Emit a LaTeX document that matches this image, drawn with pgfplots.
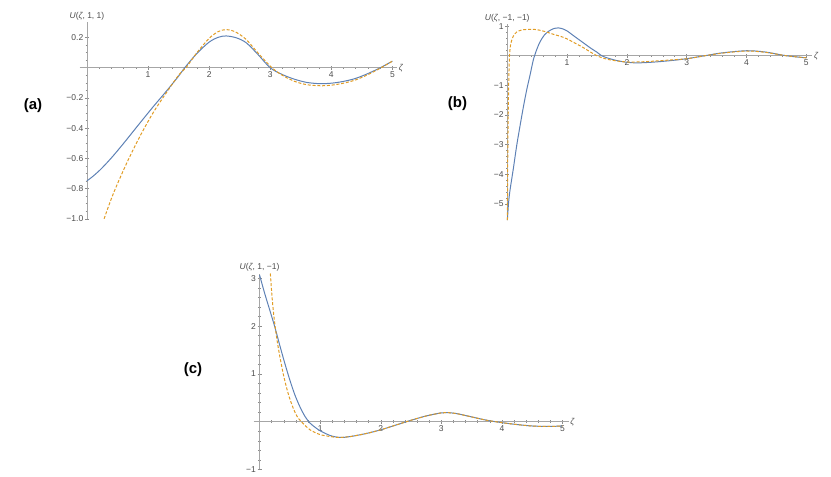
\documentclass[border=0pt]{standalone}
\usepackage{pgfplots}
\pgfplotsset{compat=1.18}
\usepackage{fontspec}
\setmainfont{Liberation Sans}
\definecolor{mmablue}{rgb}{0.368,0.507,0.710}
\definecolor{mmaorange}{rgb}{0.881,0.611,0.142}
\pgfplotsset{
  mma/.style={
    axis lines=middle, axis line style={-, black!35, line width=0.7pt},
    scale only axis, anchor=south west, enlargelimits=false,
    tick style={black!45, line width=0.5pt},
    major tick length=4pt, minor tick length=2.4pt,
    tick label style={font=\fontsize{8.5}{10}\selectfont, text=black!70, inner sep=1.5pt},
    every axis x label/.style={anchor=west, font=\fontsize{8.5}{10}\selectfont, text=black!70, inner sep=1.5pt},
    every axis y label/.style={anchor=south, font=\fontsize{8.5}{10}\selectfont, text=black!70, inner sep=2pt},
    xlabel={\textit{ζ}},
    xtick={0,1,2,3,4,5}, xticklabels={,1,2,3,4,5}, minor x tick num=4,
  },
  bl/.style={mmablue, line width=1pt, smooth, no marks},
  ol/.style={mmaorange, line width=1pt, dash pattern=on 3pt off 1.8pt, smooth, no marks},
}
\begin{document}
\begin{tikzpicture}
\useasboundingbox (0,0) rectangle (831pt,477pt);

% (a)
\begin{axis}[mma, at={(79.6pt,258.2pt)}, width=317.7pt, height=196.3pt,
  xmin=-0.12, xmax=5.08, ymin=-1.0, ymax=0.3,
  ytick={-1,-0.8,-0.6,-0.4,-0.2,0,0.2},
  yticklabels={−1.0,−0.8,−0.6,−0.4,−0.2,,0.2}, minor y tick num=3,
  xlabel style={at={(axis cs:5.08,0)}},
  ylabel style={at={(axis cs:0,0.3)}},
  ylabel={\textit{U}(\textit{ζ}, 1, 1)}]
\addplot[bl] coordinates {(0,-0.749) (0.1,-0.718) (0.216,-0.676) (0.33,-0.628)
  (0.432,-0.582) (0.55,-0.525) (0.649,-0.476) (0.865,-0.367) (1.08,-0.26)
  (1.30,-0.155) (1.5,-0.055) (1.6,0) (1.8,0.095)
  (2.0,0.17) (2.15,0.202) (2.28,0.211) (2.45,0.198) (2.61,0.165) (2.8,0.088)
  (3.0,0.0) (3.2,-0.045) (3.4,-0.076) (3.6,-0.097) (3.81,-0.105) (4.0,-0.102)
  (4.2,-0.09) (4.4,-0.07) (4.6,-0.038) (4.8,0.0) (5.0,0.044)};
\addplot[ol] coordinates {(0.281,-1.0) (0.432,-0.833) (0.649,-0.633) (0.865,-0.456)
  (1.08,-0.30) (1.297,-0.167) (1.51,-0.044) (1.62,0) (1.8,0.1) (2.0,0.195)
  (2.15,0.24) (2.28,0.253) (2.42,0.24) (2.6,0.19) (2.8,0.098) (3.03,0)
  (3.2,-0.05) (3.4,-0.09) (3.6,-0.112) (3.82,-0.119) (4.0,-0.115) (4.2,-0.102)
  (4.4,-0.08) (4.6,-0.045) (4.8,-0.003) (5.0,0.044)};
\end{axis}

% (b)
\begin{axis}[mma, at={(500.1pt,256.9pt)}, width=312.2pt, height=196pt,
  xmin=-0.12, xmax=5.1, ymin=-5.55, ymax=1.07,
  ytick={-5,-4,-3,-2,-1,0,1},
  yticklabels={−5,−4,−3,−2,−1,,1}, minor y tick num=4,
  xlabel style={at={(axis cs:5.1,0)}},
  ylabel style={at={(axis cs:0,1.07)}},
  ylabel={\textit{U}(\textit{ζ}, −1, −1)}]
\addplot[bl] coordinates {(0.002,-5.55) (0.02,-5.0) (0.045,-4.55) (0.1,-3.83)
  (0.157,-3.04) (0.213,-2.37) (0.27,-1.72) (0.326,-1.14) (0.382,-0.64)
  (0.438,-0.12) (0.5,0.25) (0.55,0.48) (0.62,0.7) (0.7,0.84) (0.78,0.92)
  (0.86,0.94) (0.94,0.9) (1.0,0.84) (1.12,0.66) (1.25,0.47) (1.4,0.25)
  (1.5,0.12) (1.58,0.0) (1.7,-0.09) (1.85,-0.17) (2.0,-0.22) (2.16,-0.24)
  (2.4,-0.22) (2.7,-0.17) (3.0,-0.1) (3.3,0.0) (3.6,0.1) (4.0,0.17)
  (4.3,0.13) (4.67,0.0) (5.0,-0.07)};
\addplot[ol] coordinates {(0.002,-5.55) (0.006,-4.0) (0.012,-2.6) (0.02,-1.4)
  (0.03,-0.4) (0.04,0.1) (0.06,0.42) (0.1,0.66) (0.157,0.8) (0.24,0.87)
  (0.33,0.89) (0.44,0.895) (0.55,0.86) (0.66,0.8) (0.78,0.72) (0.9,0.65)
  (1.0,0.57) (1.12,0.44) (1.25,0.3) (1.38,0.14) (1.5,0.0) (1.62,-0.09)
  (1.75,-0.15) (2.0,-0.21) (2.3,-0.2) (2.6,-0.16) (3.0,-0.1) (3.3,0.0)
  (3.6,0.09) (4.0,0.16) (4.3,0.12) (4.67,0.0) (5.0,-0.07)};
\end{axis}

% (c)
\begin{axis}[mma, at={(253.5pt,7.5pt)}, width=315.1pt, height=196pt,
  xmin=-0.1, xmax=5.1, ymin=-1.0, ymax=3.1,
  ytick={-1,0,1,2,3},
  yticklabels={−1,,1,2,3}, minor y tick num=4,
  xlabel style={at={(axis cs:5.1,0)}},
  ylabel style={at={(axis cs:0,3.1)}},
  ylabel={\textit{U}(\textit{ζ}, 1, −1)}]
\addplot[bl] coordinates {(0,3.07) (0.083,2.69) (0.167,2.34) (0.25,1.99)
  (0.333,1.6) (0.417,1.22) (0.5,0.87) (0.583,0.56) (0.667,0.31) (0.75,0.11)
  (0.833,-0.03) (0.92,-0.12) (1.0,-0.19) (1.167,-0.29) (1.33,-0.33) (1.5,-0.31)
  (1.75,-0.25) (2.0,-0.17) (2.25,-0.07) (2.5,0.03) (2.75,0.12) (3.0,0.185)
  (3.1,0.19) (3.25,0.17) (3.5,0.1) (3.75,0.03) (4.0,-0.02) (4.25,-0.06)
  (4.5,-0.09) (4.75,-0.1) (5.0,-0.09)};
\addplot[ol] coordinates {(0.178,3.1) (0.21,2.55) (0.25,2.06) (0.306,1.57)
  (0.389,1.01) (0.472,0.59) (0.556,0.28) (0.62,0.11) (0.69,0.0) (0.833,-0.17)
  (1.0,-0.27) (1.167,-0.31) (1.3,-0.33) (1.5,-0.31) (1.75,-0.25) (2.0,-0.17)
  (2.25,-0.07) (2.5,0.03) (2.75,0.12) (3.0,0.185) (3.1,0.19) (3.25,0.17)
  (3.5,0.1) (3.75,0.03) (4.0,-0.02) (4.25,-0.06) (4.5,-0.09) (4.75,-0.1)
  (5.0,-0.09)};
\end{axis}

\node[font=\fontsize{15}{18}\selectfont\bfseries] at (33pt,371pt) {(a)};
\node[font=\fontsize{15}{18}\selectfont\bfseries] at (457.5pt,373pt) {(b)};
\node[font=\fontsize{15}{18}\selectfont\bfseries] at (193pt,107pt) {(c)};
\end{tikzpicture}
\end{document}
